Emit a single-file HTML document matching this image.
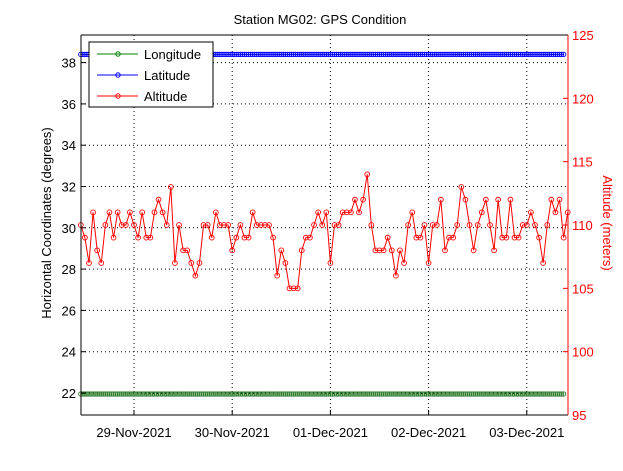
<!DOCTYPE html>
<html><head><meta charset="utf-8">
<style>
body{margin:0;background:#fff;}
svg{font-family:"Liberation Sans",sans-serif;}
</style></head>
<body>
<svg id="chart" width="623" height="466" viewBox="0 0 623 466" xmlns="http://www.w3.org/2000/svg">
<rect x="0" y="0" width="623" height="466" fill="#fff"/>
<text x="320" y="24" font-size="13" text-anchor="middle">Station MG02: GPS Condition</text>
<g id="grid"></g>
<g id="series"></g>
<g id="axes"></g>
<text transform="translate(51,223) rotate(-90)" font-size="13" text-anchor="middle">Horizontal Coordinates (degrees)</text>
<text transform="translate(603,223) rotate(90)" font-size="13" text-anchor="middle" fill="#f00">Altitude (meters)</text>
<g>
<rect x="89" y="42" width="124" height="65" fill="#fff" stroke="#000" stroke-width="1"/>
<line x1="97" y1="54" x2="138" y2="54" stroke="#008000"/><circle cx="118" cy="54" r="2.2" fill="none" stroke="#008000"/>
<text x="144" y="59" font-size="13">Longitude</text>
<line x1="97" y1="75" x2="138" y2="75" stroke="#00f"/><circle cx="118" cy="75" r="2.2" fill="none" stroke="#00f"/>
<text x="144" y="80" font-size="13">Latitude</text>
<line x1="97" y1="96" x2="138" y2="96" stroke="#f00"/><circle cx="118" cy="96" r="2.2" fill="none" stroke="#f00"/>
<text x="144" y="101" font-size="13">Altitude</text>
</g>
</svg>
<script>
const dayLabels=["29-Nov-2021","30-Nov-2021","01-Dec-2021","02-Dec-2021","03-Dec-2021"];
const leftTicks=[22,24,26,28,30,32,34,36,38];
const rightTicks=[95,100,105,110,115,120,125];
const altStartHour=-13;
const altitude=[110,109,107,111,108,107,110,111,109,111,110,110,111,110,109,111,109,109,111,112,111,110,113,107,110,108,108,107,106,107,110,110,109,111,110,110,110,108,109,110,109,109,111,110,110,110,110,109,106,108,107,105,105,105,108,109,109,110,111,110,111,
107,110,110,111,111,111,112,111,112,114,110,108,108,108,109,108,106,108,107,110,111,109,109,110,107,110,110,112,108,109,109,110,113,112,110,108,110,111,112,110,108,112,109,109,112,109,109,110,110,111,110,109,107,110,112,111,112,109,111];
const posStartHour=-13;
const posStepHours=0.5;
const longitude=new Array(237).fill(21.95);
const latitude=new Array(237).fill(38.4);

const NS="http://www.w3.org/2000/svg";
const L=81,R=568,T=35,B=415;
const x=h=>134+h*(98.2/24);
const yL=v=>393-(v-22)*20.65;
const yR=v=>415-(v-95)*12.667;
function mk(tag,attrs,parent){const e=document.createElementNS(NS,tag);for(const k in attrs)e.setAttribute(k,attrs[k]);parent.appendChild(e);return e;}
const grid=document.getElementById('grid'),axes=document.getElementById('axes'),ser=document.getElementById('series');
dayLabels.forEach((d,i)=>{const gx=x(i*24);
 const g=mk('line',{x1:gx,x2:gx,y1:T,y2:B,stroke:'#000','stroke-dasharray':'1,3'},grid);
 
 
 mk('line',{x1:gx,x2:gx,y1:B,y2:B-5,stroke:'#000'},axes);
 const t=mk('text',{x:gx,y:437,'font-size':13,'text-anchor':'middle'},axes);t.textContent=d;
 
 
});
leftTicks.forEach(v=>{const gy=yL(v);
 const g=mk('line',{x1:L,x2:R,y1:gy,y2:gy,stroke:'#000','stroke-dasharray':'1,3'},grid);
 
 
 mk('line',{x1:L,x2:L+5,y1:gy,y2:gy,stroke:'#000'},axes);
 const t=mk('text',{x:76,y:gy+5,'font-size':13,'text-anchor':'end'},axes);t.textContent=v;
 
 
});
rightTicks.forEach(v=>{const gy=yR(v);
 mk('line',{x1:R,x2:R-5,y1:gy,y2:gy,stroke:'#f00'},axes);
 const t=mk('text',{x:572,y:gy+5,'font-size':13,fill:'#f00'},axes);t.textContent=v;
 
 
});
mk('line',{x1:L,x2:L,y1:T,y2:B,stroke:'#000'},axes);
mk('line',{x1:L,x2:R,y1:B,y2:B,stroke:'#000'},axes);
mk('line',{x1:L,x2:R,y1:T,y2:T,stroke:'#000'},axes);
mk('line',{x1:R,x2:R,y1:T,y2:B,stroke:'#f00'},axes);
function series(vals,start,step,yf,color,name,r){
 const pts=vals.map((v,i)=>[x(start+i*step),yf(v)]);
 const p=mk('polyline',{points:pts.map(q=>q.join(',')).join(' '),fill:'none',stroke:color,'stroke-width':1},ser);
 
 
 pts.forEach(q=>{const c=mk('circle',{cx:q[0],cy:q[1],r:r,fill:'none',stroke:color,'stroke-width':0.9},ser);
  
  });
}
series(longitude,posStartHour,posStepHours,yL,'#2a7a2a','longitude',2.2);
series(latitude,posStartHour,posStepHours,yL,'#0000ff','latitude',2.2);
series(altitude,altStartHour,1,yR,'#ff0000','altitude',2.4);
</script>
</body></html>
